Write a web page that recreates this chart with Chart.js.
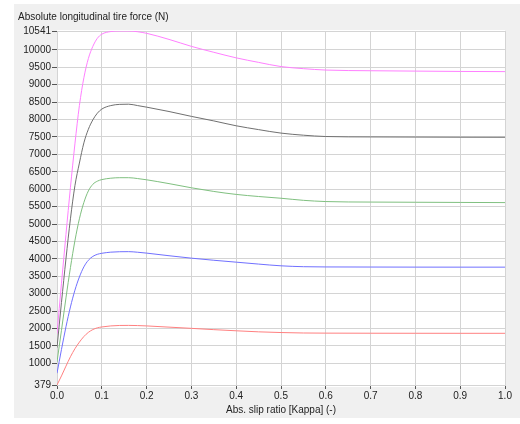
<!DOCTYPE html>
<html>
<head>
<meta charset="utf-8">
<script src="https://cdn.jsdelivr.net/npm/chart.js@4.4.1/dist/chart.umd.min.js"></script>
<style>
  html, body { margin: 0; padding: 0; background: #fff; }
  #frame { position: absolute; left: 14px; top: 4px; width: 506px; height: 414px; background: #f0f0f0; }
  #wrap { position: absolute; left: 0; top: 0; width: 520px; height: 424px; }
</style>
</head>
<body>
<div id="frame"></div>
<div id="wrap"><canvas id="tireChart" width="520" height="424"></canvas></div>
<script>
// slip ratio samples (x) shared by all curves
const kappa = [0, 0.01, 0.02, 0.03, 0.04, 0.05, 0.06, 0.07, 0.08, 0.09, 0.1, 0.12, 0.14, 0.16, 0.18, 0.2,
               0.25, 0.3, 0.35, 0.4, 0.45, 0.5, 0.55, 0.6, 0.7, 0.8, 0.9, 1.0];

// longitudinal force per load case (N)
const forceRed = [379, 640, 920, 1190, 1420, 1610, 1770, 1890, 1970, 2020, 2045, 2075, 2088, 2090, 2085, 2075,
                  2040, 2005, 1968, 1935, 1905, 1885, 1872, 1868, 1865, 1864, 1863, 1863];
const forceBlue = [715, 1400, 2050, 2620, 3100, 3480, 3770, 3960, 4070, 4130, 4160, 4192, 4205, 4207, 4190, 4165,
                   4090, 4020, 3960, 3905, 3850, 3800, 3775, 3768, 3765, 3763, 3762, 3762];
const forceGreen = [1040, 1950, 2880, 3750, 4520, 5150, 5620, 5950, 6140, 6230, 6275, 6315, 6330, 6330, 6305, 6270,
                    6160, 6040, 5935, 5850, 5790, 5740, 5680, 5645, 5630, 5625, 5620, 5615];
const forceBlack = [1450, 2750, 4000, 5150, 6100, 6750, 7330, 7720, 7990, 8180, 8300, 8400, 8435, 8440, 8400, 8355,
                    8230, 8090, 7960, 7820, 7710, 7610, 7550, 7512, 7500, 7496, 7492, 7490];
const forceMagenta = [1850, 3300, 4700, 6050, 7300, 8400, 9200, 9750, 10100, 10330, 10450, 10525, 10541, 10541, 10520, 10475,
                      10300, 10100, 9930, 9770, 9640, 9520, 9460, 9420, 9400, 9390, 9380, 9375];

const seriesColors = ['#ff8080', '#7070ff', '#80c080', '#707070', '#ff80ff'];
const seriesValues = [forceRed, forceBlue, forceGreen, forceBlack, forceMagenta];

// y tick labels
const yTicks = [379, 1000, 1500, 2000, 2500, 3000, 3500, 4000, 4500, 5000, 5500, 6000, 6500, 7000, 7500,
                8000, 8500, 9000, 9500, 10000, 10541];

const plotBackground = {
    id: 'plotBackground',
    beforeDraw(chart) {
        const { ctx, chartArea: a } = chart;
        ctx.save();
        ctx.fillStyle = '#ffffff';
        ctx.fillRect(a.left, a.top - 1, a.right - a.left, a.bottom - a.top + 3);
        ctx.restore();
    }
};

const font = { family: 'Liberation Sans, Arial, sans-serif', size: 10, weight: 'normal' };

new Chart(document.getElementById('tireChart').getContext('2d'), {
    type: 'line',
    data: {
        datasets: seriesValues.map((vals, i) => ({
            data: kappa.map((k, j) => ({ x: k, y: vals[j] })),
            borderColor: seriesColors[i],
            borderWidth: 1,
            pointRadius: 0,
            cubicInterpolationMode: 'monotone',
            fill: false
        }))
    },
    options: {
        responsive: false,
        animation: false,
        layout: { padding: { left: 18, right: 15, top: 0, bottom: 6 } },
        plugins: {
            legend: { display: false },
            tooltip: { enabled: false },
            title: {
                display: true,
                text: 'Absolute longitudinal tire force (N)',
                align: 'start',
                color: '#222',
                font: font,
                padding: { top: 11, bottom: 8 }
            }
        },
        scales: {
            x: {
                type: 'linear',
                min: 0,
                max: 1,
                afterFit: s => { s.height = 33; },
                ticks: {
                    stepSize: 0.1,
                    color: '#222',
                    font: font,
                    padding: 1,
                    maxRotation: 0,
                    callback: v => v.toFixed(1)
                },
                grid: { color: '#d4d4d4', tickColor: '#555', tickLength: 4 },
                border: { color: '#d4d4d4' },
                title: {
                    display: true,
                    text: 'Abs. slip ratio [Kappa] (-)',
                    color: '#222',
                    font: font,
                    padding: { top: 0, bottom: 2 }
                }
            },
            y: {
                min: 379,
                max: 10541,
                afterFit: s => { s.width = 39; },
                afterBuildTicks: s => { s.ticks = yTicks.map(v => ({ value: v })); },
                ticks: { color: '#222', font: font, padding: 1, callback: v => String(v) },
                grid: { color: '#d4d4d4', tickColor: '#555', tickLength: 5 },
                border: { color: '#d4d4d4' }
            }
        }
    },
    plugins: [plotBackground]
});
</script>
</body>
</html>
